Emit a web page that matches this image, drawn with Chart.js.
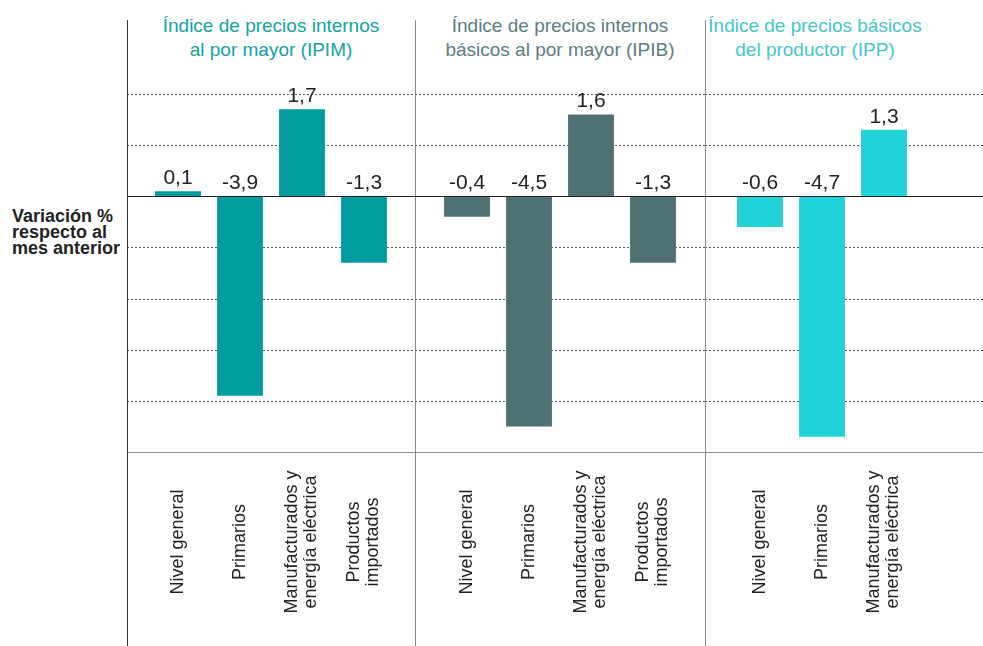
<!DOCTYPE html>
<html lang="es">
<head>
<meta charset="utf-8">
<script src="https://cdn.jsdelivr.net/npm/chart.js@4"></script>
<style>
  body { margin: 0; background: #fff; }
  #lienzo { position: relative; width: 983px; height: 646px; font-family: 'Liberation Sans', Arial, Helvetica, sans-serif; }
  .grupo { position: absolute; top: 0; }
  .titulo { position: absolute; top: 14px; font-size: 19px; line-height: 24px; text-align: center; white-space: nowrap; }
  #ejeY { position: absolute; left: 12px; top: 208px; font-size: 18px; line-height: 16px; font-weight: bold; color: #222; }
</style>
</head>
<body>
<div id="lienzo">
  <div id="ejeY">Variación %<br>respecto al<br>mes anterior</div>
  <div class="titulo" style="left:127px;width:288px;color:#14a1a4">Índice de precios internos<br>al por mayor (IPIM)</div>
  <div class="titulo" style="left:415px;width:290px;color:#5a7e7f">Índice de precios internos<br>básicos al por mayor (IPIB)</div>
  <div class="titulo" style="left:665px;width:300px;color:#45c5ca">Índice de precios básicos<br>del productor (IPP)</div>
  <canvas class="grupo" id="chartIPIM" width="288" height="646" style="left:127px"></canvas>
  <canvas class="grupo" id="chartIPIB" width="290" height="646" style="left:415px"></canvas>
  <canvas class="grupo" id="chartIPP" width="278" height="646" style="left:705px"></canvas>
</div>
<script>
// Datos
const categorias = [['Nivel general'], ['Primarios'], ['Manufacturados y', 'energía eléctrica'], ['Productos', 'importados']];
const categoriasIPP = [['Nivel general'], ['Primarios'], ['Manufacturados y', 'energía eléctrica'], ['']];
const valoresIPIM = [0.1, -3.9, 1.7, -1.3];
const valoresIPIB = [-0.4, -4.5, 1.6, -1.3];
const valoresIPP = [-0.6, -4.7, 1.3, null];
const marcasY = [2, 1, 0, -1, -2, -3, -4, -5];

const fuente = "'Liberation Sans', Arial, Helvetica, sans-serif";

// Plugin para lineas, etiquetas de valores y categorias
const lineasPlugin = {
  id: 'lineas',
  beforeDatasetsDraw(chart, args, opts) {
    const ctx = chart.ctx;
    const y = chart.scales.y;
    ctx.save();
    ctx.lineWidth = 1;
    marcasY.forEach(v => {
      if (v === 0) return;
      const py = Math.round(y.getPixelForValue(v)) + 0.5;
      ctx.beginPath();
      if (v === -5) {
        ctx.setLineDash([]);
        ctx.strokeStyle = '#8a8a8a';
      } else {
        ctx.setLineDash([2, 2]);
        ctx.strokeStyle = '#555';
      }
      ctx.moveTo(0, py);
      ctx.lineTo(chart.width, py);
      ctx.stroke();
    });
    // separador vertical
    ctx.setLineDash([]);
    ctx.strokeStyle = opts.colorSeparador;
    ctx.beginPath();
    ctx.moveTo(0.5, 20);
    ctx.lineTo(0.5, chart.height);
    ctx.stroke();
    ctx.restore();
  },
  afterDatasetsDraw(chart) {
    const ctx = chart.ctx;
    const y = chart.scales.y;
    const x = chart.scales.x;
    ctx.save();
    // linea del cero
    const py0 = Math.round(y.getPixelForValue(0)) + 0.5;
    ctx.strokeStyle = '#222';
    ctx.lineWidth = 1;
    ctx.beginPath();
    ctx.moveTo(0, py0);
    ctx.lineTo(chart.width, py0);
    ctx.stroke();

    // valores
    const datos = chart.data.datasets[0].data;
    const meta = chart.getDatasetMeta(0);
    ctx.fillStyle = '#222';
    ctx.font = '21px ' + fuente;
    ctx.textAlign = 'center';
    ctx.textBaseline = 'alphabetic';
    meta.data.forEach((bar, i) => {
      const v = datos[i];
      if (v == null) return;
      const tope = Math.min(bar.y, bar.base);
      ctx.fillText(v.toFixed(1).replace('.', ','), bar.x, tope - 7);
    });

    // categorias rotadas
    ctx.font = '18px ' + fuente;
    ctx.textBaseline = 'middle';
    chart.data.labels.forEach((lineas, i) => {
      const px = x.getPixelForValue(i);
      ctx.save();
      ctx.translate(px, 542);
      ctx.rotate(-Math.PI / 2);
      lineas.forEach((t, j) => {
        ctx.fillText(t, 0, (j - (lineas.length - 1) / 2) * 19);
      });
      ctx.restore();
    });
    ctx.restore();
  }
};

function crearGrafico(id, etiquetas, valores, color, colorSeparador, padIzq, padDer) {
  return new Chart(document.getElementById(id), {
    type: 'bar',
    data: {
      labels: etiquetas,
      datasets: [{
        data: valores,
        backgroundColor: color,
        categoryPercentage: 1,
        barPercentage: 0.74
      }]
    },
    options: {
      responsive: false,
      animation: false,
      layout: { padding: { top: 94, bottom: 194, left: padIzq, right: padDer } },
      scales: {
        x: { display: false },
        y: { display: false, min: -5, max: 2 }
      },
      plugins: {
        legend: { display: false },
        tooltip: { enabled: false },
        lineas: { colorSeparador: colorSeparador }
      }
    },
    plugins: [lineasPlugin]
  });
}

crearGrafico('chartIPIM', categorias, valoresIPIM, '#009c9f', '#333', 20, 20);
crearGrafico('chartIPIB', categorias, valoresIPIB, '#4f7173', '#8a8a8a', 21, 21);
crearGrafico('chartIPP', categoriasIPP, valoresIPP, '#20d3d8', '#8a8a8a', 24, 6);
</script>
</body>
</html>
